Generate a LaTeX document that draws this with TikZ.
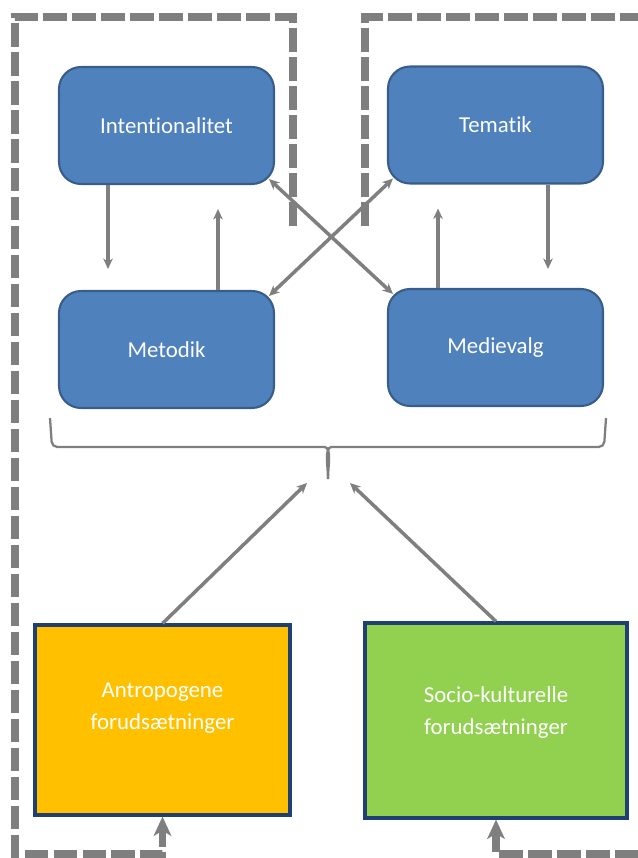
\documentclass[tikz,border=0pt]{standalone}
\usepackage{fontspec}
\setmainfont{Carlito}[Ligatures=NoCommon]
\usetikzlibrary{calc, arrows.meta, positioning}
\definecolor{BoxBlue}{RGB}{79, 129, 189}
\definecolor{BoxEdge}{RGB}{56, 93, 138}
\definecolor{DarkEdge}{RGB}{31, 64, 112}
\definecolor{AmberFill}{RGB}{255, 192, 0}
\definecolor{LimeFill}{RGB}{146, 208, 80}
\definecolor{LineGrey}{RGB}{127, 127, 127}

\begin{document}
\begin{tikzpicture}[x=0.02cm, y=-0.02cm,
    blok/.style={draw=BoxEdge, line width=1.2pt, fill=BoxBlue, rounded corners=0.44cm,
        minimum width=4.3cm, minimum height=2.34cm, text=white, font=\fontsize{13}{16}\selectfont},
    forud/.style={draw=DarkEdge, line width=1.8pt},
    forudtekst/.style={text=white, align=center, font=\fontsize{13}{18}\selectfont},
    pil/.style={LineGrey, line width=2pt, -{Stealth[length=6pt, width=5.5pt]}},
    dobbelt/.style={LineGrey, line width=2pt, {Stealth[length=6pt, width=5.5pt]}-{Stealth[length=6pt, width=5.5pt]}},
    ramme/.style={LineGrey, line width=4pt, dash pattern=on 13.5pt off 3pt, -{Stealth[length=11pt, width=10pt, inset=3pt]}},
    klamme/.style={LineGrey, line width=1.3pt, rounded corners=3pt}]
    \useasboundingbox (0,0) rectangle (638,858);
    \clip (0,0) rectangle (638,858);

    % Didaktiske beslutninger
    \node[blok] (intent) at (166.5,125.5) {Intentionalitet};
    \node[blok] (tematik) at (495.5,125) {Tematik};
    \node[blok] (metodik) at (166.5,349.5) {Metodik};
    \node[blok] (medie) at (495.5,347.5) {Medievalg};

    % Forudsaetninger
    \node[forud, fill=AmberFill, minimum width=5.1cm, minimum height=3.8cm] (anthro) at (162.5,720) {};
    \node[forudtekst] (anthrotekst) at ([yshift=0.24cm]anthro.center) {Antropogene\\forudsætninger};
    \node[forud, fill=LimeFill, minimum width=5.24cm, minimum height=3.9cm] (socio) at (496,720.5) {};
    \node[forudtekst] (sociotekst) at ([yshift=0.16cm]socio.center) {Socio-kulturelle\\forudsætninger};

    % Rammer
    \draw[ramme] (293,226) -- (293,17) -- (15,17) -- (15,854) -| (anthro.south);
    \draw[ramme] (365,226) -- (365,17) -- (660,17) -- (660,854) -| (socio.south);

    % Lodrette pile
    \draw[pil, shorten >=0.42cm] ([xshift=-1.17cm]intent.south) -- ([xshift=-1.17cm]metodik.north);
    \draw[pil, shorten >=0.48cm] ([xshift=1.03cm]metodik.north) -- ([xshift=1.03cm]intent.south);
    \draw[pil, shorten >=0.38cm] ([xshift=1.05cm]tematik.south) -- ([xshift=1.05cm]medie.north);
    \draw[pil, shorten >=0.48cm] ([xshift=-1.15cm]medie.north) -- ([xshift=-1.15cm]tematik.south);

    % Krydsende pile
    \draw[dobbelt] ($(intent.south east)+(-6,-6)$) -- ($(medie.north west)+(6,6)$);
    \draw[dobbelt] ($(tematik.south west)+(6,-6)$) -- ($(metodik.north east)+(-6,6)$);

    % Klamme
    \coordinate (samling) at (328,479);
    \draw[klamme] (50,418) -- (52,447) -- (319,447) to[out=0, in=90] (samling);
    \draw[klamme] (606,418) -- (604,447) -- (337,447) to[out=180, in=90] (samling);

    % Pile mod klammen
    \coordinate (venstreind) at (307,483);
    \coordinate (hoejreind) at (350,483);
    \draw[pil] (anthro.north) -- (venstreind);
    \draw[pil] (socio.north) -- (hoejreind);
\end{tikzpicture}
\end{document}
